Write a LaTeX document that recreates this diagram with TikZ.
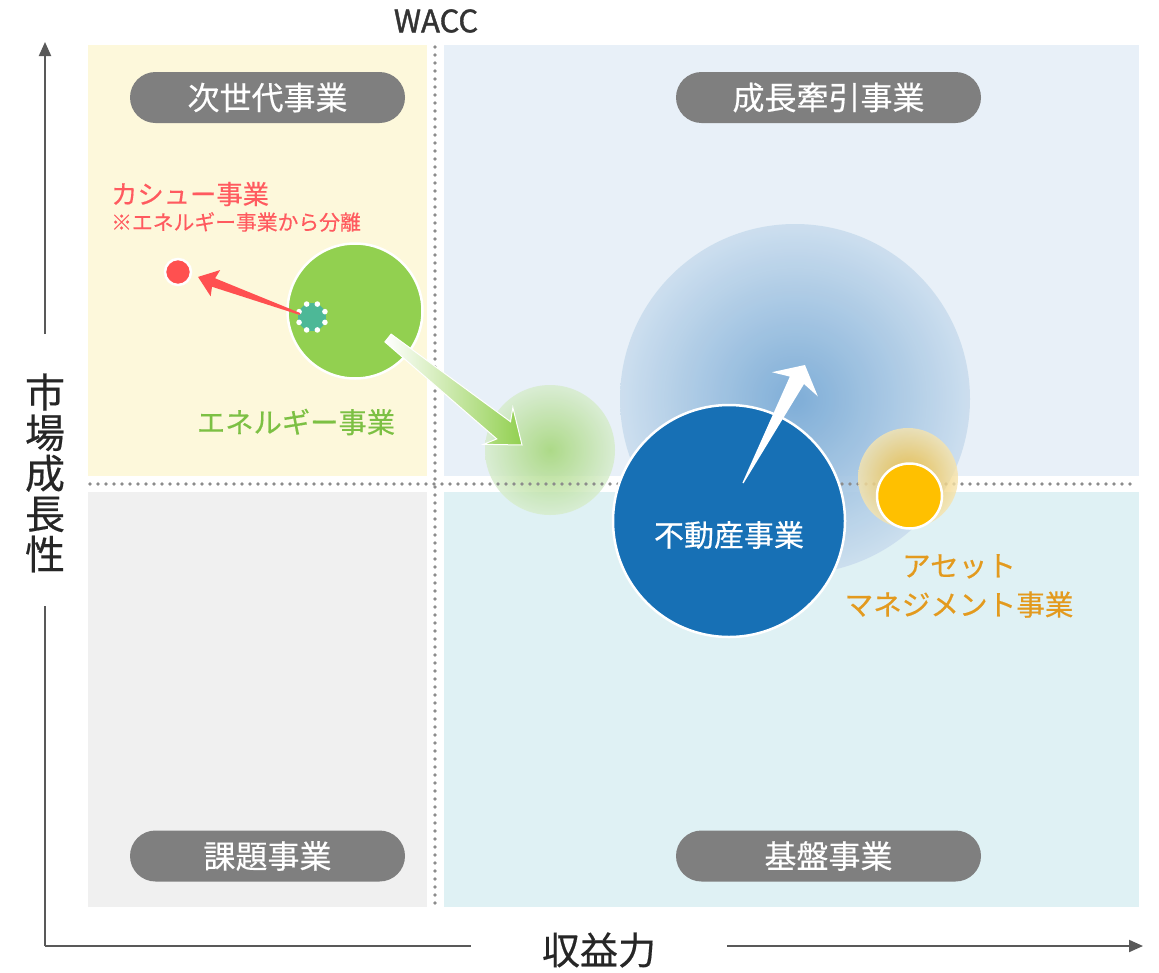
\documentclass[tikz,border=0pt]{standalone}
\usepackage{fontspec}
\setmainfont{Noto Sans CJK JP}[FakeBold=0.4]
\newfontfamily\waccfont{Noto Sans CJK JP}[FakeBold=1.2]
\usetikzlibrary{calc,arrows.meta,shapes.geometric}
\definecolor{qyellow}{HTML}{FDF8DB}
\definecolor{qblue}{HTML}{E8F0F8}
\definecolor{qgray}{HTML}{F0F0F0}
\definecolor{qcyan}{HTML}{DFF1F4}
\definecolor{pill}{HTML}{7F7F7F}
\definecolor{egreen}{HTML}{92D050}
\definecolor{egreentext}{HTML}{7CC043}
\definecolor{cred}{HTML}{FF5050}
\definecolor{credtext}{HTML}{FF5A5F}
\definecolor{reblue}{HTML}{1770B5}
\definecolor{amorange}{HTML}{FFC000}
\definecolor{amtext}{HTML}{E39A1E}
\definecolor{teal1}{HTML}{4DB897}
\definecolor{dotgray}{HTML}{8C8C8C}
\definecolor{axisgray}{HTML}{595959}
\definecolor{glowbin}{HTML}{74A7D4}
\definecolor{glowbout}{HTML}{CADDEE}
\definecolor{glowgin}{HTML}{9ED46C}
\definecolor{glowgout}{HTML}{D6ECCB}
\definecolor{glowoin}{HTML}{EDB628}
\definecolor{glowoout}{HTML}{F6E4AE}
\tikzset{
  pillbox/.style={fill=pill, text=white, rounded corners=25.5pt, minimum width=275pt,
    minimum height=51pt, inner sep=0pt, font=\fontsize{32}{36}\selectfont},
  dotline/.style={dotgray, line width=3.6pt, line cap=round, dash pattern=on 0pt off 8pt},
  axisline/.style={axisgray, line width=2pt},
  ringed/.style={draw=white, line width=2.5pt},
  lbl/.style={inner sep=0pt},
}
\begin{document}
\begin{tikzpicture}[x=1pt,y=-1pt]
\fill[white] (0,0) rectangle (1159,972);
\useasboundingbox (0,0) rectangle (1159,972);
% quadrants
\fill[qyellow] (88,45) rectangle (427,476);
\fill[qblue] (444,45) rectangle (1139,476);
\fill[qgray] (88,492) rectangle (427,907);
\fill[qcyan] (444,492) rectangle (1139,907);
% blue glow
\shade[inner color=glowbin, outer color=glowbout, opacity=0.9] (795,399) circle (175);
% green glow
\shade[inner color=glowgin, outer color=glowgout, opacity=0.8] (550,450) circle (65);
% dotted WACC lines
\coordinate (vt) at (435,47);
\coordinate (vb) at (435,905);
\coordinate (hl) at (90,484);
\coordinate (hr) at (1137,484);
\draw[dotline] (vt) -- (vb);
\draw[dotline] (hl) -- (hr);
% orange glow
\shade[inner color=glowoin, outer color=glowoout, opacity=0.8] (908,478) circle (50);
\node[lbl, text=black!80, font=\waccfont\fontsize{31}{34}\selectfont] (wacc) at (436,21) {WACC};
% pills
\node[pillbox] (p1) at (267.5,97.5) {次世代事業};
\node[pillbox, minimum width=305pt] (p2) at (828.5,97.5) {成長牽引事業};
\node[pillbox] (p3) at (267.5,856) {課題事業};
\node[pillbox, minimum width=305pt] (p4) at (828.5,856) {基盤事業};
% energy circle
\node[circle, fill=egreen, ringed, minimum size=135pt, inner sep=0pt] (energy) at (355,311) {};
% red dot
\node[circle, fill=cred, ringed, minimum size=26pt, inner sep=0pt] (cashew) at (178,272) {};
% teal cluster
\node[regular polygon, regular polygon sides=8, fill=teal1, minimum size=30pt, inner sep=0pt] (seed) at (312,317) {};
\foreach \a in {0,45,...,315} \fill[white] ($(seed)+(\a+22.5:14)$) circle (2.8);
% red tapered arrow
\begin{scope}[shift={(300,314)}, rotate=160]
  \fill[cred] (0,-1) -- (92,-4.5) -- (90,-14) -- (108.5,0) -- (90,14) -- (92,4.5) -- (0,1) -- cycle;
\end{scope}
% green tapered arrow
\begin{scope}[shift={(388,338)}, rotate=-38.6]
  \shade[left color=white, right color=egreen, draw=white, line width=1pt]
    (0,-5) -- (148,-11) -- (141,-23.5) -- (171.5,0) -- (141,23.5) -- (148,11) -- (0,5) -- cycle;
\end{scope}
% real estate circle
\node[circle, fill=reblue, ringed, minimum size=232pt, inner sep=0pt] (realestate) at (729,521) {};
\node[lbl, text=white, font=\fontsize{30}{34}\selectfont] (retext) at (729,535) {不動産事業};
% white tapered arrow
\begin{scope}[shift={(743,483)}, rotate=62.3]
  \fill[white] (0,-0.6) -- (116,-8) -- (111.5,-26) -- (133.3,0) -- (111.5,26) -- (116,8) -- (0,0.6) -- cycle;
\end{scope}
% asset management
\node[circle, fill=amorange, ringed, minimum size=65pt, inner sep=0pt] (asset) at (909.5,496) {};
\node[lbl, text=amtext, font=\fontsize{28.6}{39}\selectfont, align=center] (assettext) at (959,586) {アセット\\マネジメント事業};
% labels
\node[lbl, text=credtext, font=\fontsize{26.3}{30}\selectfont, anchor=west] (kashtext) at (111,194) {カシュー事業};
\node[lbl, text=credtext, font=\fontsize{20.8}{24}\selectfont, anchor=west] (kashnote) at (111,222) {※エネルギー事業から分離};
\node[lbl, text=egreentext, font=\fontsize{28.3}{32}\selectfont] (energytext) at (296,422) {エネルギー事業};
% axes
\coordinate (O) at (45,946);
\coordinate (ytop) at (45,42);
\coordinate (ygapb) at (45,606);
\coordinate (ygapt) at (45,334);
\coordinate (xgapl) at (471,946);
\coordinate (xgapr) at (727,946);
\coordinate (xend) at (1143,946);
\node[lbl, text=black!85, font=\fontsize{40}{40.5}\selectfont, align=center] (ylab) at (45,473) {市\\場\\成\\長\\性};
\node[lbl, text=black!85, font=\fontsize{38}{40}\selectfont] (xlab) at (599,950) {収益力};
\draw[axisline] (O) -- (ygapb);
\draw[axisline, -{Triangle[length=14pt,width=12pt]}] (ygapt) -- (ytop);
\draw[axisline] (O) -- (xgapl);
\draw[axisline, -{Triangle[length=14pt,width=12pt]}] (xgapr) -- (xend);
\end{tikzpicture}
\end{document}
